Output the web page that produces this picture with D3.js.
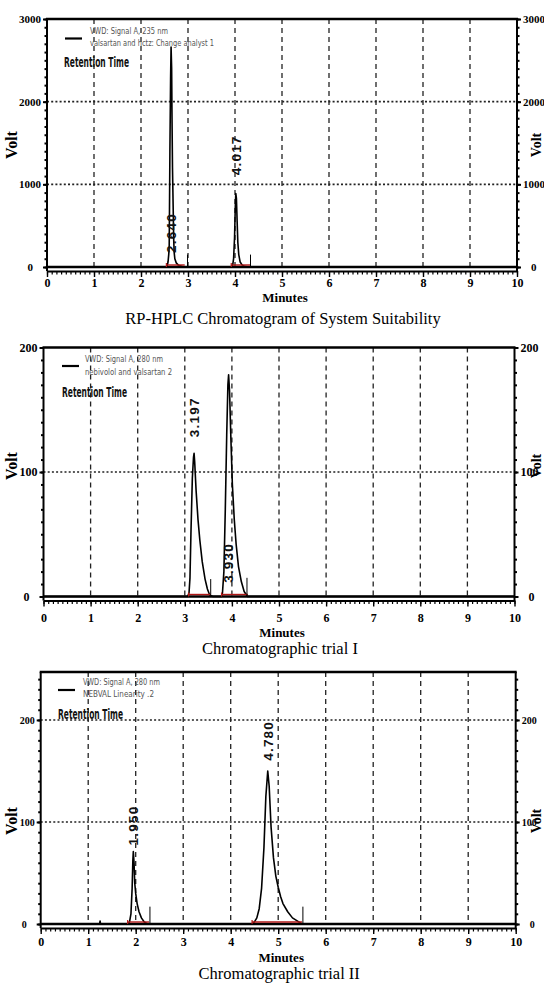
<!DOCTYPE html>
<html>
<head>
<meta charset="utf-8">
<script src="https://cdn.jsdelivr.net/npm/d3@7"></script>
<style>
  body { margin: 0; background: #fff; }
  svg { display: block; }
</style>
</head>
<body>
<svg id="chart" width="544" height="984"></svg>
<script>
// ---------- data ----------
const xTickLabels = ["0", "1", "2", "3", "4", "5", "6", "7", "8", "9", "10"];

const titles = [
  "RP-HPLC Chromatogram of System Suitability",
  "Chromatographic trial I",
  "Chromatographic trial II"
];
const legendSignal = [
  "VWD: Signal A, 235 nm",
  "VWD: Signal A, 280 nm",
  "VWD: Signal A, 280 nm"
];
const legendSample = [
  "valsartan and hctz: Change analyst 1",
  "nebivolol and valsartan 2",
  "NEBVAL Linearity .2"
];

// y ticks (Volt) and the top of each axis
const yTicks1 = [0, 1000, 2000, 3000];
const yTicks2 = [0, 100, 200];
const yTicks3 = [0, 100, 200];
const yTop = [3000, 200, 247];
const yMinorStep = [100, 10, 10];

// detector traces: [minutes, signal]
const trace1 = [
  [0, 0], [2.55, 0], [2.575, 60], [2.59, 150], [2.6, 250], [2.605, 600], [2.615, 1400],
  [2.63, 2300], [2.64, 2660], [2.652, 2400], [2.66, 1800], [2.67, 1200], [2.685, 700],
  [2.695, 350], [2.705, 180], [2.72, 100], [2.75, 50], [2.8, 20], [2.88, 5], [2.93, 0],
  [3.92, 0], [3.95, 20], [3.97, 100], [3.99, 350], [4.005, 700], [4.017, 890],
  [4.03, 830], [4.045, 560], [4.06, 300], [4.08, 150], [4.11, 60], [4.15, 25],
  [4.2, 8], [4.28, 0], [10, 0]
];
const trace2 = [
  [0, 0], [3.06, 0], [3.09, 3], [3.11, 15], [3.13, 50], [3.16, 95], [3.185, 112],
  [3.197, 115], [3.21, 108], [3.24, 85], [3.28, 62], [3.32, 45], [3.37, 28], [3.43, 14],
  [3.48, 6], [3.53, 1], [3.6, 0],
  [3.78, 0], [3.8, 3], [3.83, 20], [3.86, 70], [3.89, 130], [3.915, 170], [3.93, 178],
  [3.95, 165], [3.98, 125], [4.01, 90], [4.05, 62], [4.09, 42], [4.14, 24], [4.2, 12],
  [4.26, 4], [4.33, 0], [10, 0]
];
const trace3 = [
  [0, 0], [1.24, 0], [1.25, 3], [1.26, 0],
  [1.83, 0], [1.87, 2], [1.9, 10], [1.925, 35], [1.94, 62], [1.95, 71], [1.965, 60],
  [1.98, 40], [2.0, 30], [2.03, 20], [2.07, 12], [2.12, 6], [2.18, 2], [2.25, 0],
  [4.45, 0], [4.5, 2], [4.55, 6], [4.6, 15], [4.65, 35], [4.7, 75], [4.74, 125],
  [4.78, 150], [4.81, 135], [4.85, 95], [4.9, 65], [4.95, 47], [5.0, 36], [5.05, 27],
  [5.1, 20], [5.2, 12], [5.3, 6], [5.4, 3], [5.5, 0], [10, 0]
];

// retention times of the labelled peaks
const retention1 = [2.640, 4.017];
const retention2 = [3.197, 3.930];
const retention3 = [1.950, 4.780];

// peak-end markers: [minutes, signal]
const markers1 = [[2.99, 150], [4.33, 150]];
const markers2 = [[3.55, 14], [4.32, 15]];
const markers3 = [[2.30, 17], [5.52, 17]];

// integration baselines: [start, end] in minutes
const integration1 = [[2.54, 2.93], [3.92, 4.33]];
const integration2 = [[3.08, 3.55], [3.78, 4.34]];
const integration3 = [[1.83, 2.28], [4.45, 5.5]];

// ---------- layout ----------
const layout = [
  { left: 47, right: 517, top: 19, zero: 267, yFont: 11, xLabelY: 287, minutesY: 302, titleY: 324,
    voltY: 145, labelAt: [170, 1110],
    legend: { lineX: 65, lineY: 38.5, textX: 90, t1: 34, t2: 46, w1: 78, w2: 124, rtX: 64, rtY: 67 } },
  { left: 43.5, right: 514.5, top: 347.5, zero: 596.5, yFont: 12, xLabelY: 622, minutesY: 637, titleY: 654,
    voltY: 466, labelAt: [128, 11],
    legend: { lineX: 62, lineY: 366, textX: 85, t1: 362, t2: 375, w1: 78, w2: 87, rtX: 62, rtY: 397 } },
  { left: 40.7, right: 515.7, top: 672, zero: 924, yFont: 10, xLabelY: 946, minutesY: 962, titleY: 979,
    voltY: 821, labelAt: [77, 160],
    legend: { lineX: 58, lineY: 690, textX: 83, t1: 685, t2: 697, w1: 77, w2: 71, rtX: 58, rtY: 719 } }
];

const panels = [
  { yTicks: yTicks1, trace: trace1, rts: retention1, markers: markers1, integ: integration1 },
  { yTicks: yTicks2, trace: trace2, rts: retention2, markers: markers2, integ: integration2 },
  { yTicks: yTicks3, trace: trace3, rts: retention3, markers: markers3, integ: integration3 }
];

const serif = "'Liberation Serif','Times New Roman',serif";
const sans = "'Liberation Sans',Arial,sans-serif";
const narrow = "'Liberation Sans Narrow','Arial Narrow','DejaVu Sans Condensed','Liberation Sans',sans-serif";

const svg = d3.select("#chart");
const xTickValues = xTickLabels.map(Number);

panels.forEach((p, i) => {
  const f = layout[i];
  const x = d3.scaleLinear().domain([0, 10]).range([f.left, f.right]);
  const y = d3.scaleLinear().domain([0, yTop[i]]).range([f.zero, f.top]);
  const axisY = f.zero + 4;
  const g = svg.append("g");

  // vertical dashed grid at each minute
  g.selectAll("line.vgrid")
    .data(xTickValues.filter(t => t > 0 && t < 10))
    .join("line")
    .attr("x1", d => x(d)).attr("x2", d => x(d))
    .attr("y1", f.top).attr("y2", f.zero)
    .attr("stroke", "#222").attr("stroke-width", 1.3)
    .attr("stroke-dasharray", "5,4");

  // horizontal dotted grid
  g.selectAll("line.hgrid")
    .data(p.yTicks.filter(v => v > 0 && v < yTop[i]))
    .join("line")
    .attr("x1", f.left).attr("x2", f.right)
    .attr("y1", d => y(d)).attr("y2", d => y(d))
    .attr("stroke", "#222").attr("stroke-width", 1.6)
    .attr("stroke-dasharray", "2,2.2");

  // zero baseline
  g.append("line")
    .attr("x1", f.left).attr("x2", f.right)
    .attr("y1", y(0)).attr("y2", y(0))
    .attr("stroke", "#000").attr("stroke-width", 2.5);

  // trace
  const line = d3.line().x(d => x(d[0])).y(d => y(d[1]));
  g.append("path")
    .datum(p.trace)
    .attr("d", line)
    .attr("fill", "none")
    .attr("stroke", "#000")
    .attr("stroke-width", 1.6)
    .attr("stroke-linejoin", "round");

  // integration baselines
  g.selectAll("line.integ")
    .data(p.integ)
    .join("line")
    .attr("x1", d => x(d[0])).attr("x2", d => x(d[1]))
    .attr("y1", y(0) - 2).attr("y2", y(0) - 2)
    .attr("stroke", "#b01818").attr("stroke-width", 1.4);
  g.selectAll("line.integEnd")
    .data(p.integ)
    .join("line")
    .attr("x1", d => x(d[0])).attr("x2", d => x(d[0]))
    .attr("y1", y(0) - 4).attr("y2", y(0))
    .attr("stroke", "#b01818").attr("stroke-width", 1.2);

  // peak-end markers
  g.selectAll("line.marker")
    .data(p.markers)
    .join("line")
    .attr("x1", d => x(d[0])).attr("x2", d => x(d[0]))
    .attr("y1", y(0)).attr("y2", d => y(d[1]))
    .attr("stroke", "#000").attr("stroke-width", 1);

  // peak labels (retention time)
  g.selectAll("text.rt")
    .data(p.rts)
    .join("text")
    .attr("transform", (d, j) => `translate(${x(d)},${y(f.labelAt[j])}) rotate(-90)`)
    .attr("dy", "0.36em")
    .attr("font-family", sans)
    .attr("font-weight", "bold")
    .attr("font-size", 13.5)
    .attr("letter-spacing", 1.2)
    .attr("fill", "#111")
    .text(d => d3.format(".3f")(d));

  // frame: top, left and right borders
  g.append("line").attr("x1", f.left - 1).attr("x2", f.right + 1)
    .attr("y1", f.top).attr("y2", f.top)
    .attr("stroke", "#000").attr("stroke-width", 2.6);
  [f.left, f.right].forEach(xx => {
    g.append("line").attr("x1", xx).attr("x2", xx)
      .attr("y1", f.top).attr("y2", axisY)
      .attr("stroke", "#000").attr("stroke-width", 2);
  });

  // x axis: minor and major ticks
  const xMinor = d3.axisBottom(x)
    .tickValues(d3.range(0, 101).map(k => k / 10))
    .tickSize(3.5).tickSizeOuter(0).tickFormat("");
  const xMajor = d3.axisBottom(x)
    .tickValues(xTickValues)
    .tickSize(6).tickSizeOuter(0).tickPadding(4)
    .tickFormat((d, k) => xTickLabels[k]);
  const gxm = g.append("g").attr("transform", `translate(0,${axisY})`).call(xMinor);
  gxm.select(".domain").attr("stroke-width", 1.8);
  gxm.selectAll(".tick line").attr("stroke-width", 1.2);
  const gx = g.append("g").attr("transform", `translate(0,${axisY})`).call(xMajor);
  gx.select(".domain").remove();
  gx.selectAll(".tick line").attr("stroke-width", 1.4);
  gx.selectAll(".tick text")
    .attr("y", null).attr("dy", null)
    .attr("transform", `translate(0,${f.xLabelY - axisY})`)
    .attr("font-family", serif).attr("font-weight", "bold")
    .attr("font-size", 12).attr("fill", "#000");

  // y axes: left and right, with minor ticks
  const minorVals = d3.range(0, yTop[i] + 0.001, yMinorStep[i]);
  [[f.left, d3.axisLeft, -1], [f.right, d3.axisRight, 1]].forEach(([xx, axisFn, dir]) => {
    const ga = g.append("g").attr("transform", `translate(${xx},0)`);
    ga.call(axisFn(y).tickValues(minorVals).tickSize(2.5).tickSizeOuter(0).tickFormat(""));
    ga.select(".domain").remove();
    ga.selectAll(".tick line").attr("stroke-width", 2);
    const gm = g.append("g").attr("transform", `translate(${xx},0)`);
    gm.call(axisFn(y).tickValues(p.yTicks).tickSize(4).tickSizeOuter(0).tickPadding(2)
      .tickFormat(d3.format("d")));
    gm.select(".domain").remove();
    gm.selectAll(".tick line").attr("stroke-width", 2);
    gm.selectAll(".tick text")
      .attr("dx", d => d === 0 ? dir * 8 : 0)
      .attr("font-family", serif).attr("font-weight", "bold")
      .attr("font-size", f.yFont).attr("fill", "#000");
  });

  // "Volt" axis titles
  [[17, f.voltY, 16], [540.5, f.voltY, 14]].forEach(([vx, vy, fs]) => {
    g.append("text")
      .attr("transform", `translate(${vx},${vy}) rotate(-90)`)
      .attr("text-anchor", "middle")
      .attr("font-family", serif).attr("font-weight", "bold")
      .attr("font-size", fs).attr("fill", "#000")
      .text("Volt");
  });

  // "Minutes" axis title
  g.append("text")
    .attr("x", (f.left + f.right) / 2 + 3).attr("y", f.minutesY)
    .attr("text-anchor", "middle")
    .attr("font-family", serif).attr("font-weight", "bold")
    .attr("font-size", 13).attr("fill", "#000")
    .text("Minutes");

  // panel caption
  g.append("text")
    .attr("x", (f.left + f.right) / 2 + 1).attr("y", f.titleY)
    .attr("text-anchor", "middle")
    .attr("font-family", serif)
    .attr("font-size", 16.5).attr("fill", "#000")
    .text(titles[i]);

  // legend
  const L = f.legend;
  g.append("line")
    .attr("x1", L.lineX).attr("x2", L.lineX + 17)
    .attr("y1", L.lineY).attr("y2", L.lineY)
    .attr("stroke", "#000").attr("stroke-width", 2.2);
  g.append("text")
    .attr("x", L.textX).attr("y", L.t1)
    .attr("font-family", narrow).attr("font-size", 9.5)
    .attr("fill", "#555")
    .attr("textLength", L.w1).attr("lengthAdjust", "spacingAndGlyphs")
    .text(legendSignal[i]);
  g.append("text")
    .attr("x", L.textX).attr("y", L.t2)
    .attr("font-family", narrow).attr("font-size", 9.5)
    .attr("fill", "#555")
    .attr("textLength", L.w2).attr("lengthAdjust", "spacingAndGlyphs")
    .text(legendSample[i]);
  g.append("text")
    .attr("x", L.rtX).attr("y", L.rtY)
    .attr("font-family", narrow).attr("font-size", 13.5)
    .attr("font-weight", "bold")
    .attr("fill", "#111")
    .attr("textLength", 65).attr("lengthAdjust", "spacingAndGlyphs")
    .text("Retention Time");
});
</script>
</body>
</html>
